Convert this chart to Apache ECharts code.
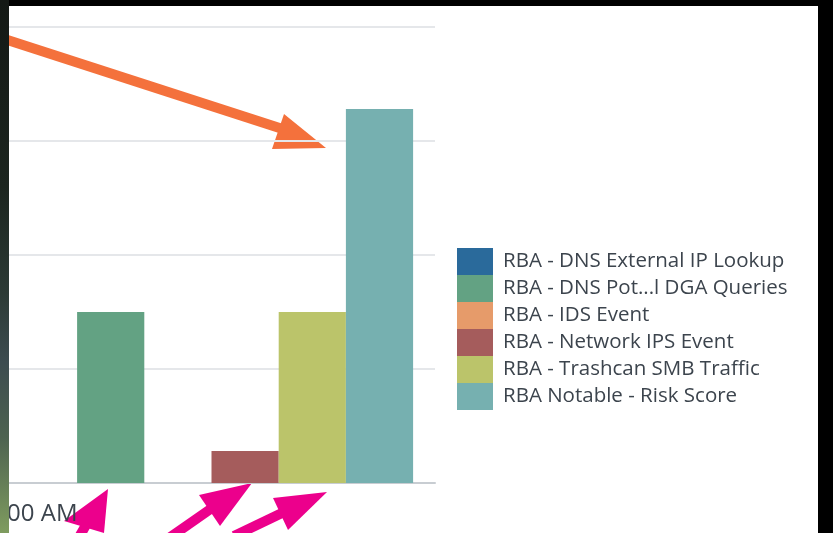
<!DOCTYPE html>
<html>
<head>
<meta charset="utf-8">
<script src="https://cdn.jsdelivr.net/npm/echarts@6/dist/echarts.min.js"></script>
<style>
  body { margin: 0; background: #000; width: 833px; height: 533px; overflow: hidden; }
  #strip {
    position: absolute; left: 0; top: 0; width: 9px; height: 533px;
    background: linear-gradient(to bottom, #141915 0%, #1c251f 35%, #2c3a35 55%, #3d4c50 68%, #4d6250 82%, #7f9c5f 100%);
  }
  #main { position: absolute; left: 9px; top: 6px; width: 809px; height: 527px; background: #fff; }
</style>
</head>
<body>
<div id="strip"></div>
<div id="main"></div>
<script>
// time bucket shown on the x axis
const timeLabels = ["12:00 AM"];

// series names as shown in the legend
const seriesNames = [
  "RBA - DNS External IP Lookup",
  "RBA - DNS Pot...l DGA Queries",
  "RBA - IDS Event",
  "RBA - Network IPS Event",
  "RBA - Trashcan SMB Traffic",
  "RBA Notable - Risk Score"
];

// one value per bucket, per series
const dnsExternal = [0];
const dnsDga = [30];
const idsEvent = [0];
const networkIps = [5.6];
const trashcanSmb = [30];
const notableRisk = [65.6];

const seriesColors = ["#2a6a9b", "#63a283", "#e69b6a", "#a55c5c", "#bbc46a", "#76b0b0"];

// y axis
const yMin = 0;
const yMax = 80;
const yStep = 20;

const chart = echarts.init(document.getElementById("main"));

const allValues = [dnsExternal, dnsDga, idsEvent, networkIps, trashcanSmb, notableRisk];

// annotation arrows from the screenshot (chart pixel coords)
function arrow(shaft, head, color, width) {
  return {
    type: "group",
    z: 100,
    children: [
      { type: "polyline", shape: { points: shaft }, style: { stroke: color, lineWidth: width, fill: null } },
      { type: "polygon", shape: { points: head }, style: { fill: color } }
    ]
  };
}

const orange = "#f4713c";
const pink = "#ec008c";

const option = {
  animation: false,
  textStyle: { fontFamily: "'Open Sans', sans-serif" },
  grid: { left: -21, right: 383, top: 21, bottom: 50, containLabel: false, outerBoundsMode: "none" },
  legend: {
    orient: "vertical",
    left: 443,
    top: 237,
    itemWidth: 36,
    itemHeight: 27,
    itemGap: 0,
    icon: "rect",
    selectedMode: false,
    data: seriesNames,
    textStyle: { fontSize: 20.5, color: "#3c444d", padding: [0, 0, 0, 5] }
  },
  xAxis: {
    type: "category",
    data: timeLabels,
    axisLine: { lineStyle: { color: "#c8cdd2", width: 2 } },
    axisTick: { show: false },
    axisLabel: {
      fontSize: 24,
      color: "#3c444d",
      align: "right",
      margin: 19,
      padding: [0, 134, 0, 0]
    }
  },
  yAxis: {
    type: "value",
    min: yMin,
    max: yMax,
    interval: yStep,
    axisLine: { show: false },
    axisTick: { show: false },
    axisLabel: { show: false },
    splitLine: { lineStyle: { color: "#e5e7ea", width: 2 } }
  },
  series: seriesNames.map((name, i) => ({
    name: name,
    type: "bar",
    data: allValues[i],
    barWidth: 67.2,
    barGap: "0%",
    itemStyle: { color: seriesColors[i] }
  })),
  graphic: [
    arrow([[-20, 28], [286, 127]], [[275, 108], [263, 143], [317, 142]], orange, 10),
    arrow([[77, 519], [58, 552]], [[99, 483], [55, 515], [95, 527]], pink, 10),
    arrow([[203, 502], [160, 532]], [[243, 477], [190, 489], [211, 520]], pink, 10),
    arrow([[273, 507], [225, 530]], [[318, 486], [264, 492], [279, 524]], pink, 10)
  ]
};

chart.setOption(option);
</script>
</body>
</html>
